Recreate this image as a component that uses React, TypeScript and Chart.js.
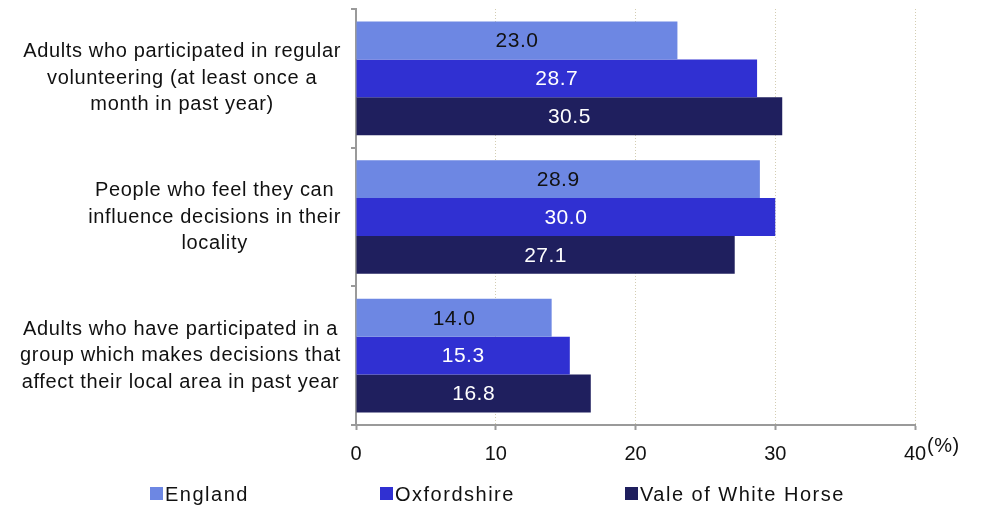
import React, { useEffect, useRef } from "react";
import { Chart, registerables } from "chart.js";

Chart.register(...registerables);

const categories: string[][] = [
  ["Adults who participated in regular", "volunteering (at least once a", "month in past year)"],
  ["People who feel they can", "influence decisions in their", "locality"],
  ["Adults who have participated in a", "group which makes decisions that", "affect their local area in past year"],
];
const seriesNames = ["England", "Oxfordshire", "Vale of White Horse"];
const england = [23.0, 28.9, 14.0];
const oxfordshire = [28.7, 30.0, 15.3];
const vale = [30.5, 27.1, 16.8];
const xTicks = [0, 10, 20, 30, 40];
const unitLabel = "(%)";

const colors = ["#6d87e3", "#3030d2", "#1f1f5e"];
const labelColors = ["#111111", "#ffffff", "#ffffff"];
const FONT = "'Liberation Sans', Arial, sans-serif";
const legendStarts = [150, 380, 625];

export default function App() {
  const ref = useRef<HTMLCanvasElement>(null);
  useEffect(() => {
    document.body.style.margin = "0";
    const canvas = ref.current!;
    const plugin = {
      id: "custom",
      afterDatasetsDraw(chart: any) {
        const ctx = chart.ctx;
        ctx.save();
        ctx.font = `21px ${FONT}`;
        (ctx as any).letterSpacing = "0.5px";
        ctx.textAlign = "center";
        ctx.textBaseline = "middle";
        chart.data.datasets.forEach((ds: any, di: number) => {
          const meta = chart.getDatasetMeta(di);
          meta.data.forEach((bar: any, i: number) => {
            ctx.fillStyle = labelColors[di];
            ctx.fillText(ds.data[i].toFixed(1), (bar.x + bar.base) / 2, bar.y + 1);
          });
        });
        ctx.restore();
      },
      afterDraw(chart: any) {
        const ctx = chart.ctx;
        const y = chart.scales.y;
        const x = chart.scales.x;
        ctx.save();
        ctx.font = `20px ${FONT}`;
        (ctx as any).letterSpacing = "0.65px";
        ctx.fillStyle = "#111111";
        ctx.textBaseline = "middle";
        ctx.textAlign = "center";
        const lh = 26.5;
        categories.forEach((lines, i) => {
          const cy = y.getPixelForValue(i);
          const widest = Math.max(...lines.map((l) => ctx.measureText(l).width));
          const cx = x.left - 15 - widest / 2;
          lines.forEach((l, k) => {
            ctx.fillText(l, cx, cy + (k - (lines.length - 1) / 2) * lh);
          });
        });
        // unit label
        (ctx as any).letterSpacing = "0.5px";
        ctx.textAlign = "left";
        ctx.fillText(unitLabel, x.right + 12, x.top + 21);
        // legend
        (ctx as any).letterSpacing = "1.5px";
        const ly = 494;
        seriesNames.forEach((name, i) => {
          const lx = legendStarts[i];
          ctx.fillStyle = colors[i];
          ctx.fillRect(lx, ly - 7, 13, 13);
          ctx.fillStyle = "#111111";
          ctx.fillText(name, lx + 15, ly + 1);
        });
        ctx.restore();
      },
    };
    const chart = new Chart(canvas, {
      type: "bar",
      data: {
        labels: categories.map((c) => c.join(" ")),
        datasets: [
          { label: seriesNames[0], data: england, backgroundColor: colors[0] },
          { label: seriesNames[1], data: oxfordshire, backgroundColor: colors[1] },
          { label: seriesNames[2], data: vale, backgroundColor: colors[2] },
        ],
      },
      options: {
        indexAxis: "y",
        responsive: false,
        animation: false,
        layout: { padding: { top: 9, right: 69, left: 0, bottom: 0 } },
        datasets: { bar: { categoryPercentage: 0.82, barPercentage: 1 } },
        plugins: { legend: { display: false }, tooltip: { enabled: false } },
        scales: {
          x: {
            min: 0,
            max: 40,
            afterBuildTicks: (s: any) => {
              s.ticks = xTicks.map((v) => ({ value: v }));
            },
            afterFit: (s: any) => {
              s.height = 82;
            },
            grid: {
              color: "#d3cdb2",
              lineWidth: 1,
              tickColor: "#9a9a9a",
              tickLength: 5,
              tickWidth: 2,
            },
            border: { color: "#9a9a9a", width: 2, dash: [1, 2] },
            ticks: {
              color: "#111111",
              font: { family: FONT, size: 20 },
              padding: 12,
            },
          },
          y: {
            afterFit: (s: any) => {
              s.width = 356;
            },
            grid: {
              drawOnChartArea: false,
              offset: true,
              color: "#9a9a9a",
              tickLength: 5,
              lineWidth: 2,
            },
            border: { color: "#9a9a9a", width: 2 },
            ticks: { display: false },
          },
        },
      },
      plugins: [plugin],
    } as any);
    return () => chart.destroy();
  }, []);
  return (
    <div style={{ width: 984, height: 507 }}>
      <canvas ref={ref} width={984} height={507} style={{ display: "block" }} />
    </div>
  );
}
